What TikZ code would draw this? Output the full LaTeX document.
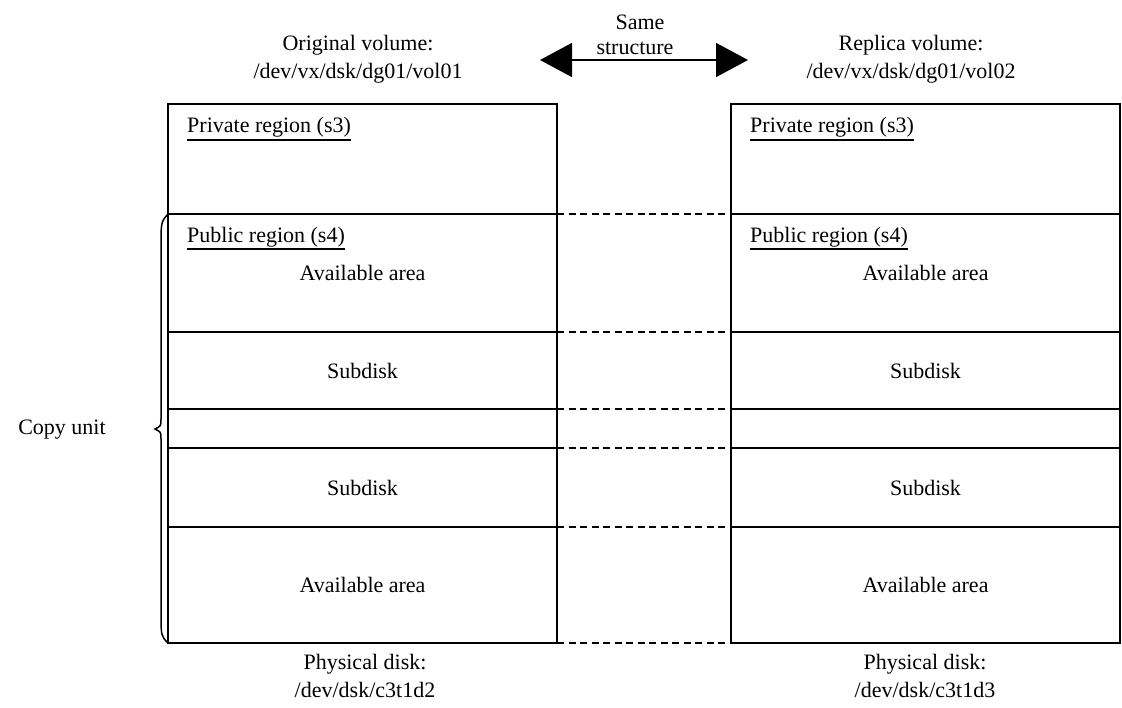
\documentclass[tikz,border=0pt]{standalone}
\usepackage{fontspec}
\setmainfont{Liberation Serif}
\usetikzlibrary{arrows.meta, positioning}

\begin{document}
\begin{tikzpicture}[
    x=1pt, y=-1pt,
    node distance=0pt,
    every node/.style={font=\fontsize{22}{28}\selectfont},
    region/.style={draw, line width=1.5pt, minimum width=389pt, inner sep=0pt, outer sep=0pt},
    tag/.style={anchor=base west, inner sep=0pt},
    link/.style={line width=1.3pt, dash pattern=on 7pt off 4.5pt},
    brace/.style={line width=1.5pt},
    samearrow/.style={{Triangle[length=32pt,width=34pt]}-{Triangle[length=32pt,width=34pt]}, line width=1.5pt}
  ]
  \useasboundingbox (0,0) rectangle (1122,707);

  % original volume
  \node[region, minimum height=110pt, anchor=north west] (lpriv) at (168,104) {};
  \node[region, minimum height=118pt, below=of lpriv] (lpub) {Available area};
  \node[region, minimum height=77pt, below=of lpub] (lsub1) {Subdisk};
  \node[region, minimum height=39pt, below=of lsub1] (lgap) {};
  \node[region, minimum height=79pt, below=of lgap] (lsub2) {Subdisk};
  \node[region, minimum height=116pt, below=of lsub2] (lfree) {Available area};

  % replica volume
  \node[region, minimum height=110pt, anchor=north west] (rpriv) at (731,104) {};
  \node[region, minimum height=118pt, below=of rpriv] (rpub) {Available area};
  \node[region, minimum height=77pt, below=of rpub] (rsub1) {Subdisk};
  \node[region, minimum height=39pt, below=of rsub1] (rgap) {};
  \node[region, minimum height=79pt, below=of rgap] (rsub2) {Subdisk};
  \node[region, minimum height=116pt, below=of rsub2] (rfree) {Available area};

  % region titles
  \node[tag] (lprivtag) at (187,132) {Private region (s3)};
  \node[tag] (lpubtag) at (187,242) {Public region (s4)};
  \node[tag] (rprivtag) at (750,132) {Private region (s3)};
  \node[tag] (rpubtag) at (750,242) {Public region (s4)};
  \draw[line width=1.5pt] ([yshift=-8pt]lprivtag.base west) -- ([yshift=-8pt]lprivtag.base east);
  \draw[line width=1.5pt] ([yshift=-7pt]lpubtag.base west) -- ([yshift=-7pt]lpubtag.base east);
  \draw[line width=1.5pt] ([yshift=-8pt]rprivtag.base west) -- ([yshift=-8pt]rprivtag.base east);
  \draw[line width=1.5pt] ([yshift=-7pt]rpubtag.base west) -- ([yshift=-7pt]rpubtag.base east);

  % same boundaries
  \draw[link] (lpriv.south east) -- (rpriv.south west);
  \draw[link] (lpub.south east) -- (rpub.south west);
  \draw[link] (lsub1.south east) -- (rsub1.south west);
  \draw[link] (lgap.south east) -- (rgap.south west);
  \draw[link] (lsub2.south east) -- (rsub2.south west);
  \draw[link] (lfree.south east) -- (rfree.south west);

  % volume names
  \node[align=center] (orig) at (358,59) {Original volume:\\/dev/vx/dsk/dg01/vol01};
  \node[align=center] (repl) at (911,59) {Replica volume:\\/dev/vx/dsk/dg01/vol02};

  \coordinate (al) at (540,60);
  \coordinate (ar) at (748,60);
  \draw[samearrow] (al) -- (ar);
  \node (same) at (640,22) {Same};
  \node (struct) at (635,48) {structure};

  % physical disks
  \node[align=center] (ldisk) at (365,676) {Physical disk:\\/dev/dsk/c3t1d2};
  \node[align=center] (rdisk) at (925,676) {Physical disk:\\/dev/dsk/c3t1d3};

  % copy unit
  \coordinate (tip) at (155,429);
  \draw[brace] (lpub.north west) .. controls (161,222) .. (161,248) -- (161,419)
    .. controls (161,426) .. (tip) .. controls (161,432) .. (161,439) -- (161,612)
    .. controls (161,636) .. (lfree.south west);
  \node (copy) at (62,430) {Copy unit};
\end{tikzpicture}
\end{document}
